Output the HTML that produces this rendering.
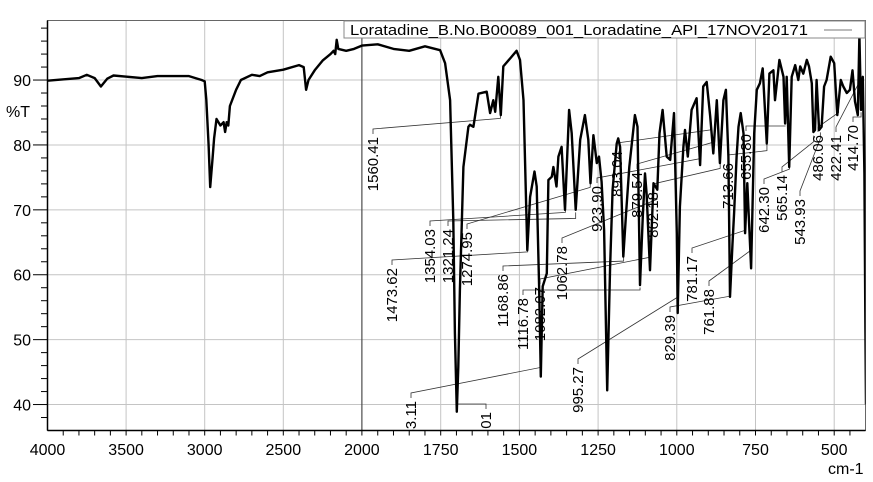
<!DOCTYPE html>
<html><head><meta charset="utf-8"><style>
html,body{margin:0;padding:0;background:#fff;}
svg{display:block;font-family:"Liberation Sans",Arial,sans-serif;}
</style></head><body>
<svg id="chart" width="873" height="482" viewBox="0 0 873 482" xmlns="http://www.w3.org/2000/svg">
<defs><clipPath id="plotclip"><rect x="47.5" y="20.5" width="818" height="410"/></clipPath></defs>
<g id="grid"></g>
<g id="axes"></g>
<g id="annot" clip-path="url(#plotclip)"></g>
<g id="series" clip-path="url(#plotclip)"></g>
<g id="legend">
  <rect x="344" y="21" width="521" height="17" fill="#fff" stroke="#888" stroke-width="1"/>
  <text x="350" y="35" font-size="15" textLength="458" lengthAdjust="spacingAndGlyphs">Loratadine_B.No.B00089_001_Loradatine_API_17NOV20171</text>
  <line x1="824" y1="30" x2="852" y2="30" stroke="#777" stroke-width="1"/>
</g>
<text x="6" y="117" font-size="16">%T</text>
<text x="828" y="474" font-size="16">cm-1</text>
</svg>
<script>
const wavenumbers=[4000,3800,3750,3700,3660,3620,3580,3400,3300,3100,3020,3000,2990,2975,2965,2950,2940,2925,2900,2880,2870,2860,2850,2840,2800,2770,2700,2650,2600,2500,2400,2370,2355,2340,2300,2250,2200,2180,2170,2160,2150,2100,2050,2000,1950,1900,1850,1800,1752,1736,1720,1710,1705,1699,1694,1689,1678,1662,1657,1646,1630,1604,1593,1583,1577,1567,1559,1551,1530,1509,1498,1487,1475,1466,1452,1445,1437,1432,1426,1413,1408,1397,1392,1382,1376,1366,1355,1342,1334,1321,1307,1292,1281,1274,1265,1254,1247,1239,1231,1221,1212,1204,1191,1186,1180,1170,1161,1151,1133,1125,1117,1108,1101,1096,1085,1074,1062,1055,1045,1032,1021,1009,1000,997,990,979,974,965,953,937,926,916,905,894,884,873,863,852,844,836,831,823,818,810,804,797,788,783,776,764,754,746,736,727,714,706,693,688,674,661,656,651,643,635,624,614,608,598,587,580,571,566,561,556,548,540,532,524,511,500,490,479,471,460,450,442,434,425,420,415,409,404,401,399];
const transmittance=[89.9,90.3,90.8,90.3,89.0,90.2,90.7,90.3,90.6,90.6,90.0,89.8,87,80,73.5,78,81,84,83,83.5,82,83.5,83,86,88.5,90,90.8,90.6,91.2,91.6,92.3,92,88.5,90,91.5,93,94,94.5,94,96.2,94.8,94.5,94.8,95.3,95.5,94.8,94.5,95.2,94.6,92.6,86.9,68.4,51.0,38.9,45.8,57.7,76.6,82.8,83.1,82.8,87.9,88.2,84.9,86.9,85.1,90.5,84.6,92.1,93.3,94.5,93.1,86.9,63.8,72.0,75.9,73.6,57.6,44.3,58.2,60.2,74.6,75.1,76.6,73.6,78.2,79.7,70.0,85.4,81.8,70.0,80.8,84.6,80.8,74.1,81.5,77.2,78.2,74.3,66.9,42.2,61.2,73.1,80.2,81.0,79.7,62.8,69.5,76.6,84.6,82.8,58.4,69.0,75.6,72.5,60.7,74.1,73.1,81.8,85.4,78.2,77.7,84.9,66.4,54.1,70.5,79.7,82.3,78.2,85.4,87.2,76.9,89.0,89.7,84.4,78.7,86.9,77.2,86.9,88.5,78.2,56.6,64.8,69.5,78.2,82.8,84.9,81.8,66.4,74.1,61.0,81.8,88.5,89.5,91.8,80.2,91.0,91.5,86.9,93.1,90.5,83.3,90.5,76.6,90.5,92.3,90.0,92.1,91.0,93.1,92.1,89.5,82.0,82.3,90.0,82.3,82.8,89.0,90.0,93.6,92.6,84.6,90.0,89.0,88.0,88.5,91.5,86.7,84.6,97.0,85.4,90.5,75.6,51.5,40];
const xMajorTicks=[4000,3500,3000,2500,2000,1750,1500,1250,1000,750,500];
const yMajorTicks=[40,50,60,70,80,90];
const peakLabels=["1560.41","1473.62","1354.03","1321.24","1274.95","1168.86","1116.78","1082.07","1062.78","923.90","893.04","879.54","862.18","995.27","829.39","781.17","761.88","713.66","655.80","642.30","565.14","543.93","486.06","422.41","414.70","1433.11","1700.01"];
const peakWns=[1560.41,1473.62,1354.03,1321.24,1274.95,1168.86,1116.78,1082.07,1062.78,923.90,893.04,879.54,862.18,995.27,829.39,781.17,761.88,713.66,655.80,642.30,565.14,543.93,486.06,422.41,414.70,1433.11,1700.01];
// label placement (annotation layout)
const labelX=[373,392,430,448,467,503,523,540,562,597,617,637,653,578,670,692,709,728,746,764,782,800,818,836,853,411,486];
const labelTop=[137,268,229,229,232,274,298,287,246,186,151,172,192,367,315,256,289,163,134,187,175,199,135,135,125,401,412];

const NS="http://www.w3.org/2000/svg";
const L=47.5,T=20.5,B=430.5,R=865.5;
function xScale(w){return w>=2000? L+(4000-w)/500*78.6 : 362+(2000-w)/250*78.7;}
function yScale(t){return 430.5-(t-36)*6.49;}
function mk(tag,attrs,parent){const e=document.createElementNS(NS,tag);for(const k in attrs)e.setAttribute(k,attrs[k]);parent.appendChild(e);return e;}
function interp(w){for(let i=0;i<wavenumbers.length-1;i++){const a=wavenumbers[i],b=wavenumbers[i+1];if(w<=a&&w>=b){const f=(a-w)/(a-b);return transmittance[i]+f*(transmittance[i+1]-transmittance[i]);}}return 90;}
const grid=document.getElementById('grid'),axes=document.getElementById('axes'),ser=document.getElementById('series'),ann=document.getElementById('annot');

xMajorTicks.forEach(v=>{const x=xScale(v);
 if(v!==4000){const g=mk('line',{x1:x,y1:T,x2:x,y2:B,stroke:'#c4c4c4','stroke-width':1},grid);
 
 }
 const t=mk('text',{x:x,y:455,'font-size':16,'text-anchor':'middle'},axes);t.textContent=v;
 
 
});
for(let v=3900;v>400;v-=(v>2000?100:50)){const x=xScale(v);
 const tk=mk('line',{x1:x,y1:B,x2:x,y2:B+5,stroke:'#000','stroke-width':1},axes);
 
 }
yMajorTicks.forEach(v=>{const y=yScale(v);
 const g=mk('line',{x1:L,y1:y,x2:R,y2:y,stroke:'#c4c4c4','stroke-width':1},grid);
 
 
 const t=mk('text',{x:31,y:y+6,'font-size':16,'text-anchor':'end'},axes);t.textContent=v;
 
 
});
for(let v=38;v<=98;v+=2){const y=yScale(v);const major=v%10===0;
 const tk=mk('line',{x1:major?33:41,y1:y,x2:L,y2:y,stroke:'#000','stroke-width':1},axes);
 
 }
const frame=mk('rect',{x:L,y:T,width:R-L,height:B-T,fill:'none',stroke:'#666','stroke-width':1},axes);


const ya=mk('line',{x1:L,y1:T,x2:L,y2:B,stroke:'#000','stroke-width':1.5},axes);


const xa=mk('line',{x1:L,y1:B,x2:R,y2:B,stroke:'#000','stroke-width':1.5},axes);


const cur=mk('line',{x1:xScale(2000),y1:T,x2:xScale(2000),y2:B,stroke:'#333','stroke-width':1},grid);



peakLabels.forEach((lab,i)=>{
 const px=xScale(peakWns[i]);const py=yScale(interp(peakWns[i]));
 const lx=labelX[i],lt=labelTop[i];
 const p=mk('polyline',{points:`${lx},${lt-3} ${lx},${lt-8} ${px},${Math.min(py+10,lt-8)} ${px},${py+4}`,fill:'none',stroke:'#333','stroke-width':0.8},ann);
 
 
 const t=mk('text',{x:0,y:0,'font-size':15,'text-anchor':'end',transform:`translate(${lx+5},${lt}) rotate(-90)`},ann);
 t.textContent=lab;
 
 
});

const pts=wavenumbers.map((w,i)=>`${xScale(w).toFixed(1)},${yScale(transmittance[i]).toFixed(1)}`).join(' ');
const line=mk('polyline',{points:pts,fill:'none',stroke:'#000','stroke-width':2.4,'stroke-linejoin':'round'},ser);


</script>
</body></html>
